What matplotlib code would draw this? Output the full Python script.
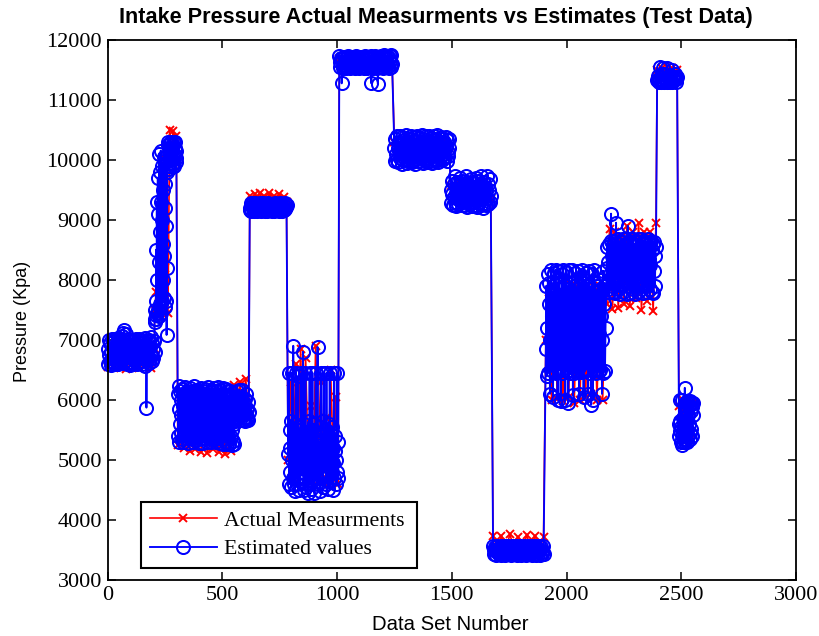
import numpy as np
import matplotlib
matplotlib.use("Agg")
import matplotlib.pyplot as plt

# block limits (data set number) and estimated values
est_spans = [(0,205),(205,300),(306,615),(620,780),(787,1005),(1010,1240),(1250,1490),
             (1495,1670),(1680,1900),(1910,2170),(2175,2390),(2395,2482),(2490,2552)]
est_blocks = [
 [6850,6600,7000,6750,6650,6950,6800,6580,7020,6700,6620,6980,6850,6600,7010,6720,6640,6960,6820,6590,
  7030,6700,6610,7000,6880,6650,7060,6750,7120,6620,6900,7160,6780,6640,7100,6830,6600,7010,6720,6630,
  6980,6850,6580,7000,6760,6620,6990,6800,6590,6990,6700,6650,7020,6880,6590,6960,6750,6610,7010,6820,
  6640,7000,6730,6600,6990,6860,6800,6970,6700,6560,7030,6840,5870,6640,6980,6720,6620,7000,6880,6680,
  7050,6750,6650,6950,6850,6700,6980,6800],
 [7350,7500,7300,7650,7420,8500,7350,9300,7450,8000,9700,7500,9100,7400,8300,10100,7600,9800,8800,10150,
  7450,9300,9000,7650,9900,8600,8000,9500,7700,10050,8400,9200,7550,9600,8900,7650,10000,7080,8200,9800,
  10250,9900,10300,10000,10120,9850,10200,10050,10280,9950,10150,10300,10000,10250,9880,10180,10020,10250,
  9950,10100,10280,9900,10200,10060,10300,9960,10150,10030],
 [6100,5400,6230,5850,5300,6150,5600,5450,6000,5750,5350,6180,5900,5300,6080,5550,5420,6220,5700,5480,
  6120,5950,5360,6150,5650,5280,6050,5800,5400,6190,5500,5450,6100,5900,5350,6020,5600,5290,6140,5750,
  5410,6230,5550,5380,6090,5850,5330,6170,5650,5460,6130,5950,5280,6060,5700,5420,6200,5500,5360,6110,
  5800,5280,6150,5600,5440,6020,5900,5340,6180,5700,5390,6100,5550,5300,6210,5850,5450,6070,5650,5360,
  6130,5950,5290,6160,5750,5400,6040,5500,5350,6190,5800,5430,6000,5600,5290,6140,5900,5360,6220,5700,
  5440,6080,5550,5280,6170,5850,5400,6030,5650,5340,6200,5750,5270,6100,5950,5420,6060,5550,5300,6180,
  5800,5260,6140,5650,5400,6040,5900,5270,6150,5700,5380,6060,5500,5250,6120,5850,5310,6020,5600,5260,
  6000,5650,5950,5780,5680,6150,5850,5720,6000,5900,5700,6170,5750,5660,5980,5820,5740,5900,6170,5670,
  5850,5780,5950,5700,6020,5650,5900,5760,6100,5680,5850,5720,5960,5660,5800],
 [9200,9160,9270,9150,9220,9260,9170,9240,9140,9200,9270,9180,9230,9150,9210,9260,9160,9250,9170,9220,
  9280,9150,9240,9180,9200,9270,9160,9230,9150,9210,9260,9170,9240,9140,9220,9270,9160,9250,9180,9200,
  9230,9150,9260,9170,9210,9240,9150,9270,9180,9200,9250,9160,9230,9170,9260,9150,9220,9270,9160,9240,
  9150,9200,9260,9170,9230,9160,9270,9180,9210,9250],
 [5100,6450,4600,5500,4800,5200,5650,4550,6450,5000,4700,6900,4600,5400,4480,5600,5100,6450,4900,5300,
  4600,5550,6400,4500,5000,5500,4650,5200,6450,5000,4800,5350,6800,4500,5600,4950,4700,6450,5100,4550,
  5450,4850,4450,5300,5650,4800,6450,4600,5500,5050,4520,5200,6450,4700,5000,5600,4450,5300,4900,6450,
  5000,4700,5450,6880,4600,5150,4900,5300,4480,5550,6450,4750,5050,5400,4550,5650,6450,5000,4800,5250,
  5500,4600,6450,4900,5100,5300,4520,5600,4750,6450,4650,5050,5350,4800,5550,4500,5200,4950,6450,4700,
  5150,5400,4600,5000,6450,4800,5300,4700],
 [11720,11540,11620,11700,11270,11680,11580,11530,11710,11620,11560,11690,11520,11650,11720,11550,11600,11700,11530,11660,
  11680,11560,11620,11710,11540,11690,11600,11520,11720,11650,11550,11700,11580,11530,11680,11630,11560,11710,11540,11610,
  11700,11520,11660,11730,11550,11690,11600,11530,11710,11630,11560,11680,11540,11720,11270,11620,11700,11520,11650,11690,
  11550,11720,11590,11530,11700,11260,11640,11680,11540,11600,11730,11550,11660,11710,11530,11620,11740,11570,11690,11540,
  11720,11610,11560,11700,11530,11650,11720,11550,11740,11600],
 [10200,9980,10350,10100,10000,10390,10200,9960,10300,10150,10020,10400,10250,9920,10380,10100,9990,10320,10180,10010,
  10410,10250,9950,10360,10120,9970,10290,10180,10030,10400,10220,9960,10350,10080,10000,10380,10200,9930,10310,10140,
  10010,10400,10260,9970,10360,10100,9980,10290,10170,10040,10410,10230,9950,10340,10110,10000,10390,10210,9960,10300,
  10150,10020,10400,10260,9980,10360,10090,9940,10320,10190,10010,10390,10220,9970,10350,10130,10000,10410,10240,9960,
  10300,10160,10030,10380,10200,9990,10350,10100,10020,10290,10170,10040,10380,10210,9980,10320,10130,10060,10350,10200],
 [9500,9280,9650,9420,9250,9600,9380,9300,9720,9450,9220,9620,9350,9260,9560,9480,9320,9700,9400,9240,
  9640,9520,9290,9590,9370,9250,9730,9460,9210,9620,9340,9300,9560,9500,9260,9680,9410,9230,9620,9360,
  9290,9540,9480,9250,9700,9390,9210,9650,9520,9280,9580,9350,9240,9720,9440,9200,9630,9380,9270,9550,
  9470,9240,9730,9360,9260,9600,9500,9300,9680,9400],
 [3560,3430,3500,3550,3420,3480,3570,3450,3520,3540,3430,3500,3560,3410,3470,3550,3440,3530,3570,3420,
  3490,3540,3450,3510,3560,3430,3480,3550,3420,3520,3570,3440,3500,3540,3430,3470,3560,3410,3530,3550,
  3450,3490,3570,3420,3510,3540,3430,3480,3560,3440,3520,3550,3420,3500,3570,3430,3470,3540,3450,3530,
  3560,3410,3490,3550,3440,3510,3570,3420,3480,3540,3430,3520,3560,3420,3500,3550,3440,3470,3570,3430],
 [6850,7900,6400,7200,8100,6450,7600,7950,6100,7000,8170,6500,7400,7800,6050,6900,8120,6480,7500,8170,
  6450,7100,7950,6000,6800,8150,6500,7700,7850,5980,7300,8100,6450,7000,8170,6500,7550,7900,6000,6850,
  8130,6480,7250,7850,5950,7650,8160,6450,7050,7950,6500,7450,8170,6080,6950,7900,6450,7350,8120,6500,
  7750,7850,6480,7150,8150,6100,6900,7900,6460,7500,8170,6500,7050,8050,6050,7600,7950,6480,7300,8120,
  6520,6950,7900,6100,7700,8140,6450,7200,7850,5920,7450,8100,6000,7000,8170,6500,7550,7950,6450,7250,
  7800,6500,7650,7900,6480,7100,8000,6500,7400,7850,6100,7000,8150,6450,7600,7900,6480,7200],
 [8200,8550,7850,8300,8600,7800,8100,8650,9100,7900,8400,8600,7800,8200,8650,7780,8500,8950,8000,8350,
  8680,7850,8150,8600,7760,8450,8620,7900,8250,8670,7800,8050,8680,8400,8000,8600,7770,8300,8900,7900,
  8500,8650,7780,8150,8620,7950,8350,8680,7850,8250,8600,7760,8450,8640,7900,8100,8670,7800,8400,8620,
  8000,8300,8680,7850,8550,8600,7780,8200,8650,7900,8450,8630,7800,8050,8670,7950,8350,8600,7850,8250,
  8650,7800,8500,8600,7780,8150,8620,7900,8400,8550],
 [11320,11400,11290,11350,11540,11300,11380,11420,11310,11530,11290,11350,11420,11310,11530,11300,11380,11400,11290,11360,
  11320,11500,11300,11350,11380,11320,11420,11300,11340,11380],
 [5600,5400,5480,6000,5650,5300,5550,6000,5420,5250,5700,5300,5500,5350,5620,5400,6200,5300,5550,5960,
  5350,5850,5500,5300,5960,5750,5400,5900,5600,5350,5980,5450,5820,5950,5520,5880,5950,5400,5750,5950],
]

act_spans = est_spans
act_blocks = [
 [6540,6900,6530,6880,6550,6900,6520,6850,6540,6890,6530,6870,6560,6900,6530,6850],
 [7500,7800,7400,8800,7700,9700,8200,10000,7450,10500,10000,10480,10200,10400],
 [5250,6000,5200,5950,5150,6000,5180,6050,5130,6000,5120,5900,5180,6000,5130,5950,5100,6000,5150,6250,5700,6300,5800,6350,5750],
 [9390,9320,9420,9300,9450,9330,9400,9300,9440,9320,9390,9300,9420,9320,9380,9300],
 [5000,6300,4700,6600,5100,6850,4800,6700,5000,5900,4650,6900,5000,6300,4700,5700,4600,6500,5000,6050,4600],
 [11680,11600,11690,11580,11700,11600,11680,11590,11700,11600,11690,11580],
 [10300,10100,10320,10080,10300,10120,10320,10100,10300,10100],
 [9560,9350,9600,9300,9580,9350,9600,9320,9550,9350],
 [3740,3520,3730,3500,3760,3520,3720,3500,3750,3520,3740,3500,3720],
 [7000,7800,6000,7900,6020,7800,5980,8000,6050,7700,5950,7900,6000,7800,6050,7900,6100,7800,6000,7900,6000,7800],
 [7600,8850,7520,8800,7530,8700,7600,8900,7560,8800,7700,8950,7500,8800,7650,8800,7480,8950],
 [11500,11400,11520,11380,11550,11400,11530,11380,11500],
 [5900,5400,6000,5300,5980,5450,5950,5350,5950],
]

x_ticks = [0,500,1000,1500,2000,2500,3000]
y_ticks = [3000,4000,5000,6000,7000,8000,9000,10000,11000,12000]
title_text = "Intake Pressure Actual Measurments vs Estimates (Test Data)"
x_label = "Data Set Number"
y_label = "Pressure (Kpa)"
legend_labels = ["Actual Measurments", "Estimated values"]

def assemble(spans, blocks):
    xs, ys = [], []
    for (a, b), vals in zip(spans, blocks):
        xs.append(np.linspace(a, b, len(vals)))
        ys.append(np.array(vals, dtype=float))
    return np.concatenate(xs), np.concatenate(ys)

ax_x, ax_y = assemble(act_spans, act_blocks)
es_x, es_y = assemble(est_spans, est_blocks)

fig = plt.figure(figsize=(8.19, 6.36), dpi=100)
W, H = 819, 636
L, R, T, B = 107.5, 796, 39.5, 580
ax = fig.add_axes([L/W, 1-B/H, (R-L)/W, (B-T)/H])

ax.plot(ax_x, ax_y, color="#ff0000", lw=1.2, marker="x", ms=6, mew=1.4, label=legend_labels[0], clip_on=False)
ax.plot(es_x, es_y, color="#0000ff", lw=1.35, marker="o", ms=9.4, mew=1.45, mfc="none", label=legend_labels[1], clip_on=False)

ax.set_xlim(0, 3000)
ax.set_ylim(3000, 12000)
ax.set_xticks(x_ticks)
ax.set_yticks(y_ticks)
ax.tick_params(direction="in", length=6, width=1.1, top=True, right=True, pad=4)
for lab in ax.get_xticklabels() + ax.get_yticklabels():
    lab.set_family("Liberation Serif")
    lab.set_fontsize(16)
for s in ax.spines.values():
    s.set_linewidth(1.3)

fig.text(436/W, 1-18/H, title_text, family="Liberation Sans", fontweight="bold", fontsize=15.6, ha="center", va="center")
fig.text(450/W, 1-625/H, x_label, family="Liberation Sans", fontsize=14.6, ha="center", va="center")
fig.text(23/W, 1-321/H, y_label, family="Liberation Sans", fontsize=13, ha="center", va="center", rotation=90)

leg = ax.legend(loc="lower left", bbox_to_anchor=((141-L)/(R-L), (B-568)/(B-T), (417-141)/(R-L), (568-501)/(B-T)),
                mode="expand", fancybox=False, framealpha=1, edgecolor="black",
                prop={"family": "Liberation Serif", "size": 15.7}, borderaxespad=0, borderpad=0.4,
                handlelength=3.07, handletextpad=0.32, labelspacing=0.39)
leg.get_frame().set_linewidth(1.5)
leg.set_zorder(10)

fig.savefig("out.png", dpi=100)
